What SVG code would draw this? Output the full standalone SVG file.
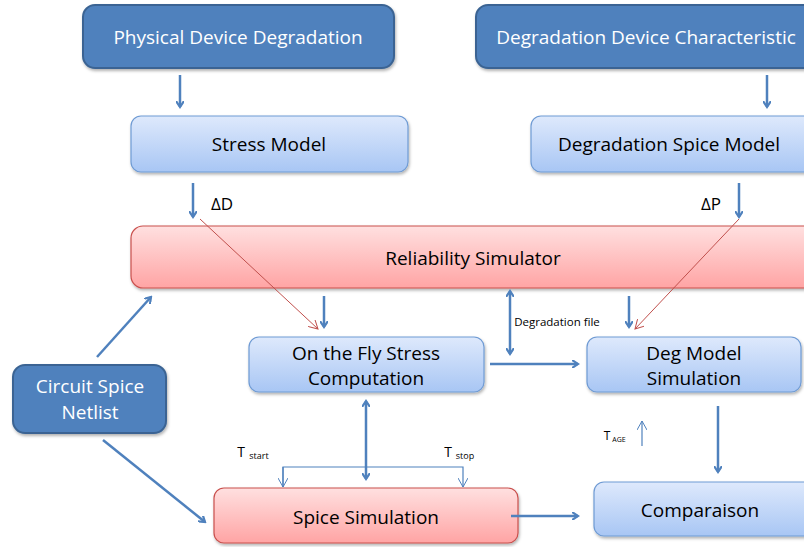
<svg xmlns="http://www.w3.org/2000/svg" width="804" height="547" viewBox="0 0 804 547">
<defs>
<linearGradient id="gBlue" x1="0" y1="0" x2="0" y2="1"><stop offset="0" stop-color="#DEE9FC"/><stop offset="1" stop-color="#A8C6F4"/></linearGradient>
<linearGradient id="gRed" x1="0" y1="0" x2="0" y2="1"><stop offset="0" stop-color="#FFE0E0"/><stop offset="1" stop-color="#FFA4A4"/></linearGradient>
<filter id="sh" x="-10%" y="-10%" width="130%" height="140%"><feDropShadow dx="1" dy="2" stdDeviation="1.5" flood-color="#000" flood-opacity="0.3"/></filter>
<marker id="ah" markerWidth="8" markerHeight="8" refX="6" refY="4" orient="auto" markerUnits="userSpaceOnUse"><path d="M0,0 L6,4 L0,8" fill="none" stroke="#4F81BD" stroke-width="2.2"/></marker>
<marker id="ahs" markerWidth="8" markerHeight="8" refX="6" refY="4" orient="auto-start-reverse" markerUnits="userSpaceOnUse"><path d="M0,0 L6,4 L0,8" fill="none" stroke="#4F81BD" stroke-width="2.2"/></marker>
<marker id="ahr" markerWidth="10" markerHeight="10" refX="9" refY="5" orient="auto" markerUnits="userSpaceOnUse"><path d="M0,0 L9,5 L0,10" fill="none" stroke="#C0504D" stroke-width="1"/></marker>
<marker id="aht" markerWidth="10" markerHeight="10" refX="9" refY="5" orient="auto" markerUnits="userSpaceOnUse"><path d="M0,0 L9,5 L0,10" fill="none" stroke="#4F81BD" stroke-width="1"/></marker>
</defs>
<style>
.dark{fill:#4F81BD;stroke:#3B6493;stroke-width:2}
.lb{fill:url(#gBlue);stroke:#6F9BD4;stroke-width:1.2}
.rd{fill:url(#gRed);stroke:#C9504D;stroke-width:1.2}
text{font-family:"Open Sans","Liberation Sans",sans-serif;text-anchor:middle}
.wt{fill:#fff;font-size:19px}
.bt{fill:#000;font-size:19px}
.sm{fill:#000;font-size:11.5px}
.ar{fill:none;stroke:#4F81BD;stroke-width:2.5;marker-end:url(#ah)}
.ard{fill:none;stroke:#4F81BD;stroke-width:2.5;marker-end:url(#ah);marker-start:url(#ahs)}
.rl{fill:none;stroke:#C0504D;stroke-width:1;marker-end:url(#ahr)}
.tl{fill:none;stroke:#4F81BD;stroke-width:1.2;marker-end:url(#aht)}
</style>
<g id="physical"><rect class="dark" x="83" y="5" width="311" height="63" rx="12" filter="url(#sh)"/><text class="wt" x="238" y="44">Physical Device Degradation</text></g>
<g id="characteristic"><rect class="dark" x="476" y="5" width="340" height="63" rx="12" filter="url(#sh)"/><text class="wt" x="646" y="44">Degradation Device Characteristic</text></g>
<g id="stress"><rect class="lb" x="131" y="116" width="277" height="56" rx="10" filter="url(#sh)"/><text class="bt" x="269" y="151">Stress Model</text></g>
<g id="degspice"><rect class="lb" x="531" y="116" width="285" height="56" rx="10" filter="url(#sh)"/><text class="bt" x="669" y="151">Degradation Spice Model</text></g>
<g id="reliability"><rect class="rd" x="131" y="226" width="690" height="62" rx="12" filter="url(#sh)"/><text class="bt" x="473" y="265">Reliability Simulator</text></g>
<g id="onthefly"><rect class="lb" x="249" y="337" width="235" height="55" rx="10" filter="url(#sh)"/><text class="bt" x="366" y="360">On the Fly Stress</text><text class="bt" x="366" y="385">Computation</text></g>
<g id="degmodel"><rect class="lb" x="587" y="337" width="214" height="55" rx="10" filter="url(#sh)"/><text class="bt" x="694" y="360">Deg Model</text><text class="bt" x="694" y="385">Simulation</text></g>
<g id="netlist"><rect class="dark" x="13" y="365" width="153" height="68" rx="12" filter="url(#sh)"/><text class="wt" x="90" y="393">Circuit Spice</text><text class="wt" x="90" y="419">Netlist</text></g>
<g id="spicesim"><rect class="rd" x="214" y="488" width="304" height="55" rx="10" filter="url(#sh)"/><text class="bt" x="366" y="524">Spice Simulation</text></g>
<g id="comparaison"><rect class="lb" x="594" y="482" width="222" height="54" rx="10" filter="url(#sh)"/><text class="bt" x="700" y="517">Comparaison</text></g>
<g id="connectors">
<path class="ar" d="M180,75 V107"/>
<path class="ar" d="M767,75 V107"/>
<path class="ar" d="M193,183 V217"/>
<path class="ar" d="M739,183 V217"/>
<path class="rl" d="M200,219 L318,329"/>
<path class="rl" d="M739,219 L635,329"/>
<path class="ar" d="M324,296 V327"/>
<path class="ar" d="M629,296 V327"/>
<path class="ard" d="M510,291 V354"/>
<path class="ar" d="M490,364 H578"/>
<path class="ar" d="M97,357 L151,297"/>
<path class="ar" d="M103,440 L205,522"/>
<path class="ard" d="M366,401 V479"/>
<path class="tl" d="M283,487 V467 H463 V487"/>
<path class="tl" d="M283,467 V487"/>
<path class="ar" d="M511,516 H578"/>
<path class="ar" d="M718,406 V472"/>
<path class="tl" d="M642,446 V421"/>
</g>
<g id="labels">
<text class="bt" x="222" y="210" style="font-size:17px">ΔD</text>
<text class="bt" x="711" y="210" style="font-size:17px">ΔP</text>
<text class="sm" x="557" y="326">Degradation file</text>
<text class="bt" x="241" y="457" style="font-size:14px">T</text><text class="sm" x="259" y="459" style="font-size:9px">start</text>
<text class="bt" x="448" y="457" style="font-size:14px">T</text><text class="sm" x="465" y="459" style="font-size:9px">stop</text>
<text class="bt" x="607" y="440" style="font-size:12px">T</text><text class="sm" x="619" y="442" style="font-size:7px">AGE</text>
</g>
</svg>
